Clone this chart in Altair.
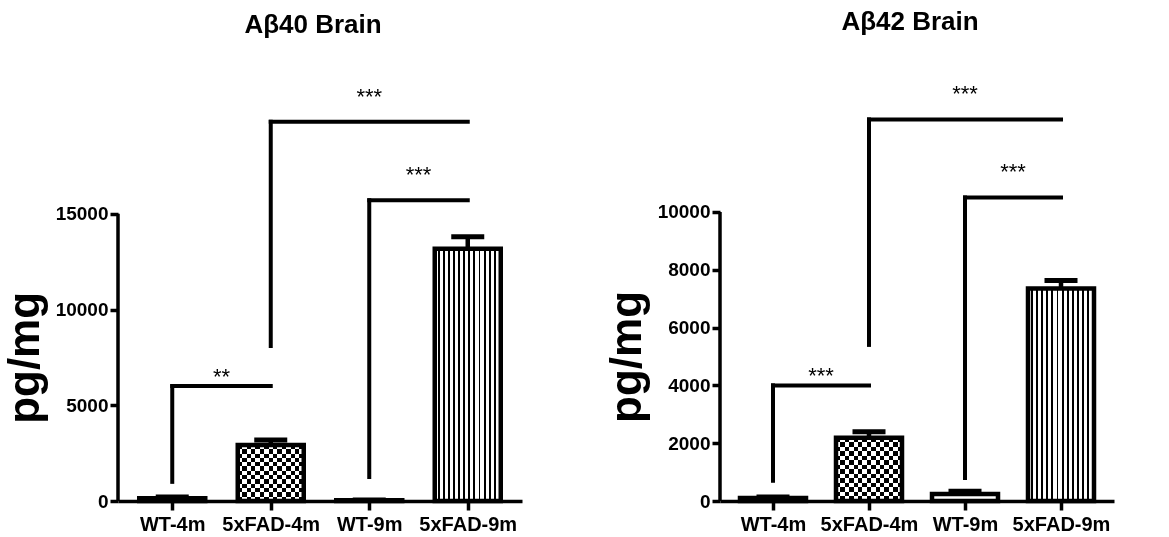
import altair as alt
import pandas as pd

# Groups on the x axis
groups = ["WT-4m", "5xFAD-4m", "WT-9m", "5xFAD-9m"]

# Mean concentration and SEM per group (pg/mg)
ab40_mean = [150, 2930, 40, 13170]
ab40_sem = [60, 260, 15, 630]
ab42_mean = [100, 2190, 240, 7350]
ab42_sem = [40, 210, 100, 280]

# Significance brackets: start group, end group, bracket height, leg end, stars
bracket_from = ["WT-4m", "5xFAD-4m", "WT-9m"]
bracket_to = ["5xFAD-4m", "5xFAD-9m", "5xFAD-9m"]
ab40_level = [6000, 19800, 15700]
ab40_leg_end = [1000, 8100, 1250]
ab40_stars = ["**", "***", "***"]
ab42_level = [4000, 13200, 10500]
ab42_leg_end = [700, 5400, 800]
ab42_stars = ["***", "***", "***"]

# Axis ticks
ab40_ticks = [0, 5000, 10000, 15000]
ab42_ticks = [0, 2000, 4000, 6000, 8000, 10000]

FONT = "Liberation Sans"
H = 383
BAR_W = 66


def stripe_fill(periods, black_frac, vertical_lines=True):
    """Hard-stop linear gradient giving white/black stripes inside a bar."""
    stops = []
    step = 1.0 / periods
    start = 0.0
    while start < 1.0 - 1e-9:
        mid = min(start + step * (1 - black_frac), 1.0)
        end = min(start + step, 1.0)
        stops += [
            alt.GradientStop(offset=round(start, 5), color="white"),
            alt.GradientStop(offset=round(mid, 5), color="white"),
            alt.GradientStop(offset=round(mid, 5), color="black"),
            alt.GradientStop(offset=round(end, 5), color="black"),
        ]
        start += step
    if vertical_lines:
        return alt.LinearGradient(gradient="linear", stops=stops, x1=0, y1=0, x2=1, y2=0)
    return alt.LinearGradient(gradient="linear", stops=stops, x1=0, y1=0, x2=0, y2=1)


def panel(title, mean, sem, level, leg_end, stars, ticks, y_max, width, checker_rows):
    pos = [i + 0.5 for i in range(len(groups))]
    bars = pd.DataFrame({
        "group": groups,
        "pos": pos,
        "mean": mean,
        "top": [m + s for m, s in zip(mean, sem)],
    })
    centre = dict(zip(groups, pos))
    brackets = pd.DataFrame({
        "x1": [centre[g] for g in bracket_from],
        "x2": [centre[g] for g in bracket_to],
        "level": level,
        "leg_end": leg_end,
        "stars": stars,
        "rank": list(range(len(stars))),
    })
    brackets["mid"] = (brackets["x1"] + brackets["x2"]) / 2
    frame = pd.DataFrame({"lo": [ticks[0]], "hi": [ticks[-1]]})

    x_scale = alt.Scale(domain=[0, len(groups)], nice=False, zero=False)
    y_scale = alt.Scale(domain=[0, y_max], nice=False, zero=True)
    label_expr = "[" + ",".join(f"'{g}'" for g in groups) + "][floor(datum.value)]"
    x_axis = alt.Axis(
        values=pos, labelExpr=label_expr, labelAngle=0, labelFontSize=20,
        labelFontWeight="bold", labelColor="black", labelFont=FONT, labelPadding=4,
        labelOverlap=False, labelFlush=False, tickSize=9, tickWidth=3.5,
        tickColor="black", domainColor="black", domainWidth=3.5, grid=False,
        title=None,
    )
    y_axis = alt.Axis(
        values=ticks, format="d", domain=False, tickSize=8, tickWidth=3.5,
        tickColor="black", labelFontSize=19, labelFontWeight="bold",
        labelColor="black", labelFont=FONT, labelPadding=2, labelFlush=False,
        labelOverlap=False, grid=False, titleFontSize=44, titleFontWeight="bold",
        titleColor="black", titleFont=FONT, titlePadding=8,
        titleY=H * (1 - ticks[-1] / (2 * y_max)),
    )

    def X(f):
        return alt.X(f, type="quantitative", scale=x_scale, axis=x_axis, title=None)

    def Y(f):
        return alt.Y(f, type="quantitative", scale=y_scale, axis=y_axis, title="pg/mg")

    base = alt.Chart(bars)
    white = base.mark_bar(width=BAR_W, fill="white").encode(x=X("pos"), y=Y("mean"))
    checker_v = base.transform_filter(alt.datum.group == "5xFAD-4m").mark_bar(
        width=BAR_W, fill=stripe_fill(7.5, 0.5, True)
    ).encode(x=X("pos"), y=Y("mean"))
    checker_h = base.transform_filter(alt.datum.group == "5xFAD-4m").mark_bar(
        width=BAR_W, fill=stripe_fill(checker_rows, 0.5, False), blend="difference"
    ).encode(x=X("pos"), y=Y("mean"))
    lines = base.transform_filter(alt.datum.group == "5xFAD-9m").mark_bar(
        width=BAR_W, fill=stripe_fill(13, 0.38, True)
    ).encode(x=X("pos"), y=Y("mean"))
    stem = base.mark_rule(strokeWidth=4.5, color="black").encode(
        x=X("pos"), y=Y("mean"), y2="top"
    )
    outline = base.mark_bar(
        width=BAR_W, fillOpacity=0, stroke="black", strokeWidth=4.5
    ).encode(x=X("pos"), y=Y("mean"))
    cap = base.mark_tick(
        orient="horizontal", size=33, thickness=5, color="black", opacity=1
    ).encode(x=X("pos"), y=Y("top"))

    bb = alt.Chart(brackets)
    span = bb.mark_rule(strokeWidth=4, color="black", strokeCap="square").encode(
        x=X("x1"), x2="x2", y=Y("level")
    )
    leg = bb.mark_rule(strokeWidth=4, color="black", strokeCap="square").encode(
        x=X("x1"), y=Y("leg_end"), y2="level"
    )
    near_stars = bb.transform_filter(alt.datum.rank == 0).mark_text(
        fontSize=22, dy=-2, baseline="alphabetic", color="black", font=FONT
    ).encode(x=X("mid"), y=Y("level"), text="stars:N")
    far_stars = bb.transform_filter(alt.datum.rank > 0).mark_text(
        fontSize=22, dy=-18, baseline="alphabetic", color="black", font=FONT
    ).encode(x=X("mid"), y=Y("level"), text="stars:N")

    axis_line = alt.Chart(frame).mark_rule(strokeWidth=3.5, color="black").encode(
        x=alt.value(0), y=Y("lo"), y2="hi"
    )

    return alt.layer(
        white, checker_v, checker_h, lines, stem, outline, cap,
        span, leg, near_stars, far_stars, axis_line,
    ).properties(
        width=width,
        height=H,
        title=alt.Title(
            title, fontSize=26, fontWeight="bold", font=FONT, color="black",
            anchor="middle", offset=48, dx=-7,
        ),
    )


left = panel("Aβ40 Brain", ab40_mean, ab40_sem, ab40_level, ab40_leg_end,
             ab40_stars, ab40_ticks, 20000, 404, 6.5)
right = panel("Aβ42 Brain", ab42_mean, ab42_sem, ab42_level, ab42_leg_end,
              ab42_stars, ab42_ticks, 13250, 394, 7)

chart = alt.hconcat(left, right, spacing=83).properties(
    padding={"left": 3, "top": 9, "right": 5, "bottom": 0}
).configure(font=FONT).configure_view(stroke=None)

chart.save("out.html", embed_options={"renderer": "svg", "actions": False})
